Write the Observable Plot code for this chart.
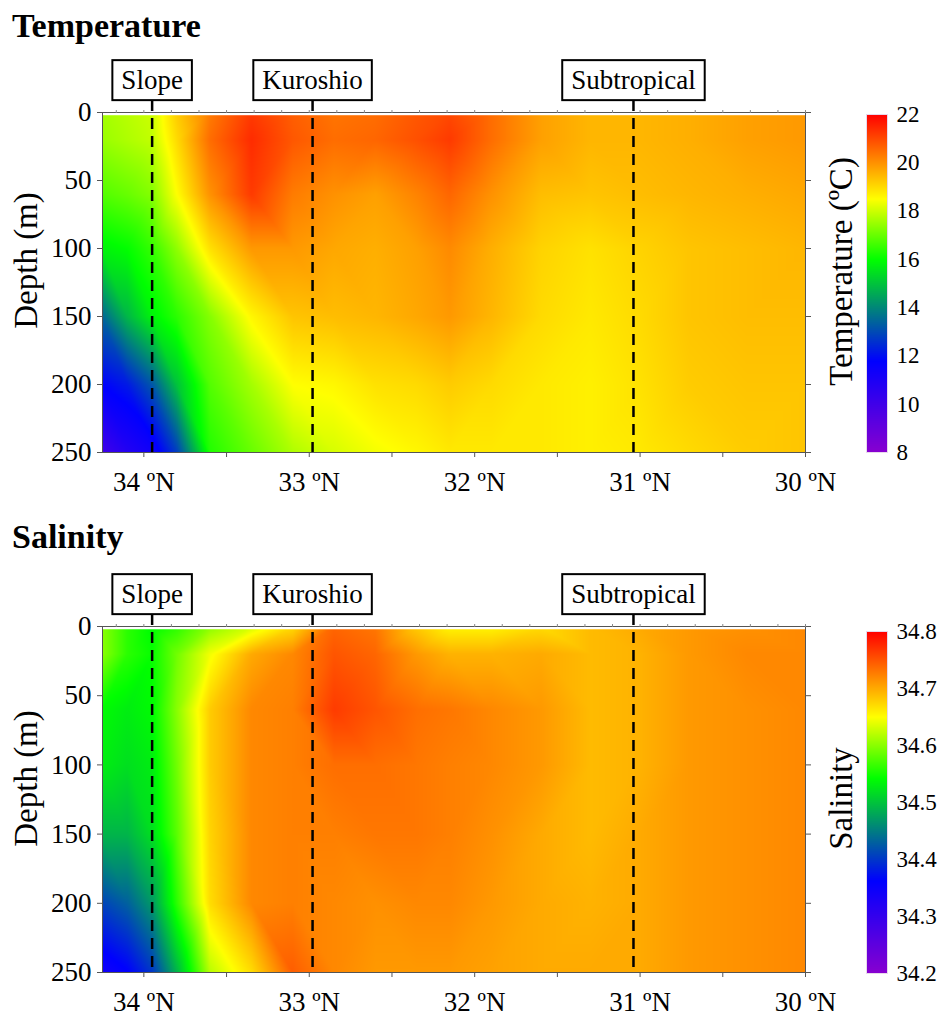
<!DOCTYPE html>
<html><head><meta charset="utf-8">
<script src="https://cdn.jsdelivr.net/npm/d3@7"></script>
<script src="https://cdn.jsdelivr.net/npm/@observablehq/plot@0.6"></script>
<style>
body{margin:0;background:#fff;font-family:"Liberation Serif","Times New Roman",serif;}
#root{position:relative;width:943px;height:1023px;overflow:hidden;background:#fff;}
.title{position:absolute;left:12px;font-weight:bold;font-size:34px;line-height:34px;white-space:nowrap;}
</style></head><body><div id="root"></div>
<script>
// ---------- data ----------
const lats = [34.25, 34.1, 33.95, 33.8, 33.6, 33.35, 33.1, 32.85, 32.6, 32.35, 32.15, 31.9, 31.6, 31.3, 31.0, 30.7, 30.35, 30.0];
const depths = [0, 20, 60, 100, 150, 200, 250];

const tempRows = [
  [17.6, 17.8, 18.0, 19.2, 20.3, 21.2, 20.7, 20.4, 20.5, 20.8, 21.0, 20.5, 19.8, 19.5, 19.5, 19.6, 19.8, 19.9],
  [17.5, 17.7, 17.9, 19.0, 20.5, 21.4, 20.8, 20.5, 20.6, 20.9, 21.2, 20.5, 19.8, 19.5, 19.5, 19.6, 19.8, 19.9],
  [16.8, 17.0, 17.3, 18.5, 20.0, 21.2, 20.3, 20.0, 19.8, 20.2, 20.6, 20.0, 19.4, 19.3, 19.4, 19.5, 19.6, 19.7],
  [15.8, 16.0, 16.5, 17.4, 18.9, 19.9, 19.9, 19.7, 19.6, 19.8, 20.1, 19.6, 19.1, 18.9, 19.1, 19.3, 19.4, 19.5],
  [13.5, 14.8, 15.8, 16.4, 17.3, 18.6, 19.3, 19.4, 19.5, 19.7, 19.9, 19.5, 19.0, 18.8, 19.0, 19.3, 19.4, 19.4],
  [11.8, 12.2, 13.2, 15.0, 16.8, 17.6, 18.5, 18.6, 18.9, 19.0, 19.2, 19.0, 18.8, 18.7, 18.9, 19.2, 19.3, 19.3],
  [10.0, 10.8, 11.3, 12.8, 16.3, 17.0, 17.7, 18.1, 18.4, 18.6, 18.8, 18.8, 18.8, 18.7, 18.8, 19.0, 19.2, 19.3]
];

const salRows = [
  [34.60, 34.56, 34.54, 34.56, 34.60, 34.63, 34.67, 34.74, 34.73, 34.68, 34.655, 34.655, 34.67, 34.69, 34.70, 34.71, 34.715, 34.72],
  [34.60, 34.56, 34.545, 34.59, 34.645, 34.70, 34.72, 34.75, 34.74, 34.71, 34.695, 34.695, 34.70, 34.69, 34.695, 34.71, 34.72, 34.72],
  [34.54, 34.53, 34.54, 34.60, 34.68, 34.72, 34.725, 34.765, 34.75, 34.735, 34.73, 34.72, 34.71, 34.69, 34.695, 34.71, 34.715, 34.72],
  [34.53, 34.52, 34.53, 34.59, 34.68, 34.72, 34.725, 34.735, 34.735, 34.73, 34.725, 34.72, 34.71, 34.69, 34.695, 34.71, 34.715, 34.72],
  [34.49, 34.49, 34.52, 34.58, 34.675, 34.72, 34.725, 34.725, 34.73, 34.73, 34.725, 34.715, 34.70, 34.69, 34.70, 34.71, 34.715, 34.72],
  [34.41, 34.43, 34.47, 34.56, 34.67, 34.72, 34.725, 34.72, 34.715, 34.72, 34.72, 34.71, 34.70, 34.695, 34.70, 34.71, 34.715, 34.72],
  [34.34, 34.36, 34.40, 34.49, 34.62, 34.67, 34.745, 34.72, 34.71, 34.71, 34.71, 34.705, 34.70, 34.70, 34.70, 34.71, 34.715, 34.72]
];

const regionNames = ["Slope", "Kuroshio", "Subtropical"];
const regionLats = [33.95, 32.98, 31.04];

const xMajorTicks = [34, 33.5, 33, 32.5, 32, 31.5, 31, 30.5, 30];
const depthTicks = [0, 50, 100, 150, 200, 250];
const tempTicks = [8, 10, 12, 14, 16, 18, 20, 22];
const salTicks = [34.2, 34.3, 34.4, 34.5, 34.6, 34.7, 34.8];

const rainbowColors = ["#8800d0", "#0000ff", "#00ff00", "#ffff00", "#ff0000"];
const tempStops = [8, 11.78, 15.98, 18.5, 22];
const salStops = [34.2, 34.362, 34.542, 34.65, 34.8];

// ---------- drawing ----------
const root = document.getElementById("root");
const SERIF = "Liberation Serif, Times New Roman, serif";
const xMinorTicks = d3.range(0, 26).map(k => 30 + k / 6);

function addTitle(text, top) {
  const d = document.createElement("div");
  d.className = "title";
  d.style.top = top + "px";
  d.textContent = text;
  root.appendChild(d);
}

function place(el, left, top) {
  el.style.position = "absolute";
  el.style.left = left + "px";
  el.style.top = top + "px";
  root.appendChild(el);
  return el;
}

function boxRegions(svg) {
  const ns = "http://www.w3.org/2000/svg";
  svg.querySelectorAll("text").forEach(t => {
    if (!regionNames.includes(t.textContent)) return;
    const b = t.getBBox();
    const r = document.createElementNS(ns, "rect");
    r.setAttribute("x", b.x - 9);
    r.setAttribute("y", b.y - 5);
    r.setAttribute("width", b.width + 18);
    r.setAttribute("height", b.height + 10);
    r.setAttribute("fill", "white");
    r.setAttribute("stroke", "black");
    r.setAttribute("stroke-width", 2);
    const tr = t.getAttribute("transform");
    if (tr) r.setAttribute("transform", tr);
    t.parentNode.insertBefore(r, t);
  });
}

function panel({rows, stops, frameTop, frameH, depthDy, cbTop, cbH, cbTicks, cbFormat, cbLabel, cbDy, lo, hi}) {
  const pts = [];
  depths.forEach((d, i) => lats.forEach((lat, j) => pts.push({lat, depth: d, v: rows[i][j]})));
  const color = {type: "linear", domain: stops, range: rainbowColors, interpolate: "rgb", clamp: true};
  const mt = 70, mb = 50;
  const main = Plot.plot({
    width: 943, height: mt + frameH + mb,
    marginLeft: 102, marginRight: 138, marginTop: mt, marginBottom: mb,
    style: {fontFamily: SERIF, fontSize: "27px", color: "black", background: "transparent", overflow: "visible"},
    x: {domain: [34.25, 30]},
    y: {domain: [0, 250], reverse: true},
    color,
    marks: [
      Plot.raster(pts, {x: "lat", y: "depth", fill: "v", interpolate: "barycentric", x1: 34.25, x2: 30, y1: 2, y2: 250}),
      Plot.ruleX(regionLats, {stroke: "black", strokeWidth: 2.5, strokeDasharray: "11,7", insetTop: -12}),
      Plot.frame({stroke: "#555"}),
      Plot.axisX({anchor: "bottom", ticks: xMajorTicks, tickSize: 5, tickPadding: 14, stroke: "#555",
        tickFormat: d => Number.isInteger(d) ? `${d} ºN` : "", label: null, fontSize: 27}),
      Plot.axisX({anchor: "top", ticks: xMinorTicks, tickSize: 3, stroke: "#888", tickFormat: () => "", label: null}),
      Plot.axisY({anchor: "left", ticks: depthTicks, tickSize: 5, tickPadding: 6, stroke: "#555", label: null, fontSize: 27}),
      Plot.axisY({anchor: "right", ticks: depthTicks, tickSize: 5, stroke: "#555", tickFormat: () => "", label: null}),
      Plot.text(["Depth (m)"], {frameAnchor: "left", textAnchor: "middle", rotate: -90, dx: -76, dy: depthDy, fontSize: 33, lineAnchor: "middle"}),
      Plot.text(regionNames, {x: (d, i) => regionLats[i], frameAnchor: "top", textAnchor: "middle", dy: -32, fontSize: 27, lineAnchor: "middle"})
    ]
  });
  place(main, 0, frameTop - mt);
  boxRegions(main);

  const cb = Plot.plot({
    width: 143, height: cbH + 40,
    marginLeft: 66, marginRight: 56, marginTop: 20, marginBottom: 20,
    style: {fontFamily: SERIF, fontSize: "23px", color: "black", background: "transparent", overflow: "visible"},
    x: {domain: [0, 1], axis: null},
    y: {domain: [lo, hi]},
    color,
    marks: [
      Plot.raster({fill: (x, y) => y, x1: 0, x2: 1, y1: lo, y2: hi}),
      Plot.frame({stroke: "#e8d8ec", strokeWidth: 1}),
      Plot.axisY({anchor: "right", ticks: cbTicks, tickSize: 0, tickPadding: 9, tickFormat: cbFormat, label: null, fontSize: 23}),
      Plot.text([cbLabel], {frameAnchor: "left", textAnchor: "middle", rotate: -90, dx: -25, dy: cbDy, fontSize: 33, lineAnchor: "middle"})
    ]
  });
  place(cb, 800, cbTop - 20);
}

addTitle("Temperature", 8.5);
panel({rows: tempRows, stops: tempStops, frameTop: 112, frameH: 340, depthDy: -22,
  cbTop: 114, cbH: 338, cbTicks: tempTicks, cbFormat: d => String(d), cbLabel: "Temperature (ºC)", cbDy: -12, lo: 8, hi: 22});

addTitle("Salinity", 520);
panel({rows: salRows, stops: salStops, frameTop: 626, frameH: 346, depthDy: -21,
  cbTop: 631, cbH: 342, cbTicks: salTicks, cbFormat: d => d.toFixed(1), cbLabel: "Salinity", cbDy: -4, lo: 34.2, hi: 34.8});
</script></body></html>
